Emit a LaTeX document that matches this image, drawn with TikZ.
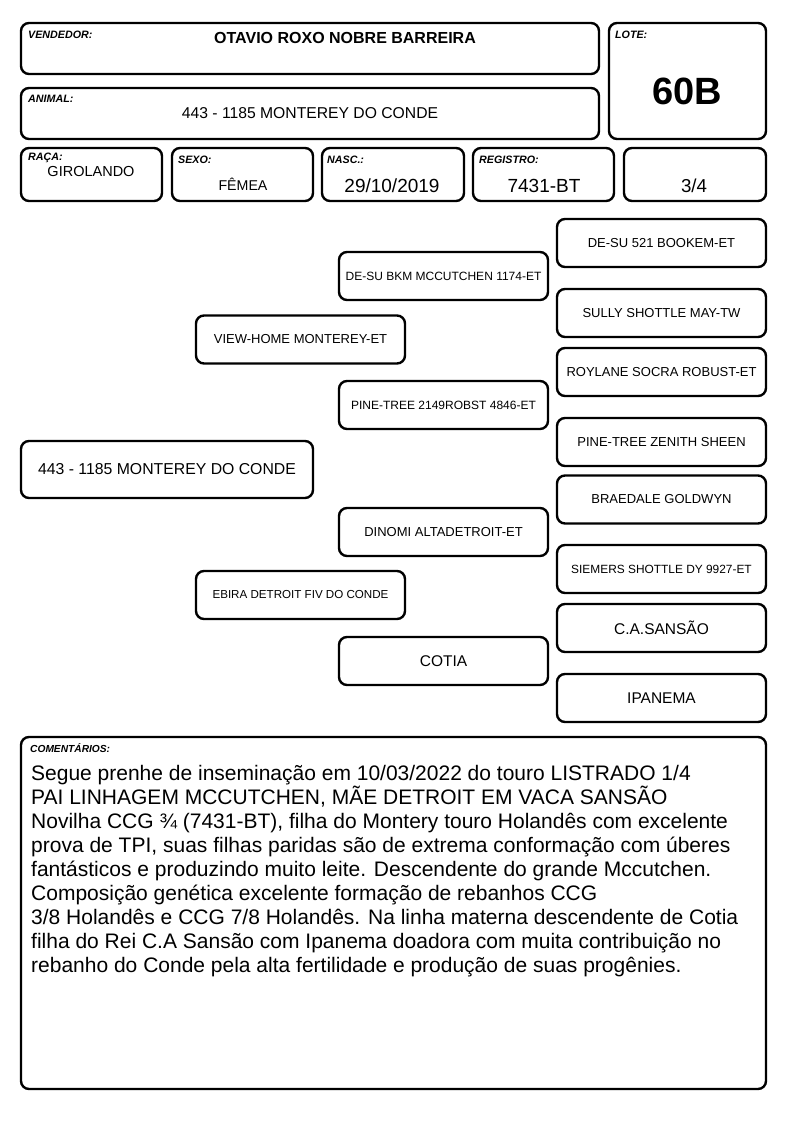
\documentclass[tikz,border=0pt]{standalone}
\usepackage{fontspec}
\setmainfont{Liberation Sans}
\begin{document}
\begin{tikzpicture}[x=1pt,y=-1pt,
  bx/.style={draw, line width=2.4pt, rounded corners=8pt, inner sep=0pt},
  lab/.style={font=\fontsize{10.7}{12}\selectfont\bfseries\itshape, anchor=west, inner sep=0pt},
  val/.style={inner sep=0pt},
  ped/.style={bx, minimum width=209pt, minimum height=48pt, align=center, font=\fontsize{13}{15}\selectfont},
  big/.style={bx, minimum width=209pt, minimum height=48pt, align=center, font=\fontsize{15.5}{17}\selectfont}
]
\useasboundingbox (0,0) rectangle (794,1123);
% header boxes
\node[bx, minimum width=578pt, minimum height=51pt] (vend) at (310,48.5) {};
\node[bx, minimum width=157pt, minimum height=116pt] (lote) at (687.5,81) {};
\node[bx, minimum width=578pt, minimum height=51pt] (anim) at (310,113.5) {};
\node[bx, minimum width=141pt, minimum height=53pt] (raca) at (91.5,174.5) {};
\node[bx, minimum width=141pt, minimum height=53pt] (sexo) at (242.5,174.5) {};
\node[bx, minimum width=142pt, minimum height=53pt] (nasc) at (393,174.5) {};
\node[bx, minimum width=141pt, minimum height=53pt] (regi) at (543.5,174.5) {};
\node[bx, minimum width=142pt, minimum height=53pt] (frac) at (695,174.5) {};
% labels
\node[lab] (lvend) at (28,35) {VENDEDOR:};
\node[lab] (llote) at (615,35) {LOTE:};
\node[lab] (lanim) at (28,99) {ANIMAL:};
\node[lab] (lraca) at (28,158) {RAÇA:};
\node[lab] (lsexo) at (178,160) {SEXO:};
\node[lab] (lnasc) at (327,160) {NASC.:};
\node[lab] (lregi) at (479,160) {REGISTRO:};
% values
\node[val, font=\fontsize{16}{18}\selectfont\bfseries] (tvend) at (345,38) {OTAVIO ROXO NOBRE BARREIRA};
\node[val, font=\fontsize{38}{40}\selectfont\bfseries] (tlote) at (687,91) {60B};
\node[val, font=\fontsize{15.7}{18}\selectfont] (tanim) at (310,113) {443 - 1185 MONTEREY DO CONDE};
\node[val, font=\fontsize{14.5}{17}\selectfont] (traca) at (91,172) {GIROLANDO};
\node[val, font=\fontsize{14.2}{17}\selectfont] (tsexo) at (243,184) {FÊMEA};
\node[val, font=\fontsize{19}{21}\selectfont] (tnasc) at (392,186) {29/10/2019};
\node[val, font=\fontsize{19}{21}\selectfont] (tregi) at (544,186) {7431-BT};
\node[val, font=\fontsize{18.7}{21}\selectfont] (tfrac) at (694,186) {3/4};
% pedigree
\node[ped, minimum width=292pt, minimum height=57pt, font=\fontsize{15.8}{18}\selectfont] (p0) at (167,469.5) {443 - 1185 MONTEREY DO CONDE};
\node[ped] (p1) at (300.5,339.5) {VIEW-HOME MONTEREY-ET};
\node[ped, font=\fontsize{11.6}{13}\selectfont] (p2) at (300.5,595) {EBIRA DETROIT FIV DO CONDE};
\node[ped, font=\fontsize{12}{14}\selectfont] (p3) at (443.5,276) {DE-SU BKM MCCUTCHEN 1174-ET};
\node[ped, font=\fontsize{12}{14}\selectfont] (p4) at (443.5,405) {PINE-TREE 2149ROBST 4846-ET};
\node[ped] (p5) at (443.5,532) {DINOMI ALTADETROIT-ET};
\node[big] (p6) at (443.5,661) {COTIA};
\node[ped] (p7) at (661.5,243) {DE-SU 521 BOOKEM-ET};
\node[ped] (p8) at (661.5,313) {SULLY SHOTTLE MAY-TW};
\node[ped] (p9) at (661.5,372) {ROYLANE SOCRA ROBUST-ET};
\node[ped] (p10) at (661.5,442) {PINE-TREE ZENITH SHEEN};
\node[ped] (p11) at (661.5,499.5) {BRAEDALE GOLDWYN};
\node[ped, font=\fontsize{11.9}{13}\selectfont] (p12) at (661.5,569) {SIEMERS SHOTTLE DY 9927-ET};
\node[big] (p13) at (661.5,628) {C.A.SANSÃO};
\node[big] (p14) at (661.5,698) {IPANEMA};
% comments
\node[bx, minimum width=745pt, minimum height=352pt] (com) at (393.5,913) {};
\node[lab, font=\fontsize{10.2}{12}\selectfont\bfseries\itshape] (lcom) at (30,748) {COMENTÁRIOS:};
\node[anchor=north west, inner sep=0pt, align=left, font=\fontsize{21}{24}\selectfont] (tcom) at (31,765) {Segue prenhe de inseminação em 10/03/2022 do touro LISTRADO 1/4\\
PAI LINHAGEM MCCUTCHEN, MÃE DETROIT EM VACA SANSÃO\\
Novilha CCG ¾ (7431-BT), filha do Montery touro Holandês com excelente\\
prova de TPI, suas filhas paridas são de extrema conformação com úberes\\
fantásticos e produzindo muito leite. Descendente do grande Mccutchen.\\
Composição genética excelente formação de rebanhos CCG\\
3/8 Holandês e CCG 7/8 Holandês. Na linha materna descendente de Cotia\\
filha do Rei C.A Sansão com Ipanema doadora com muita contribuição no\\
rebanho do Conde pela alta fertilidade e produção de suas progênies.};
\end{tikzpicture}
\end{document}
